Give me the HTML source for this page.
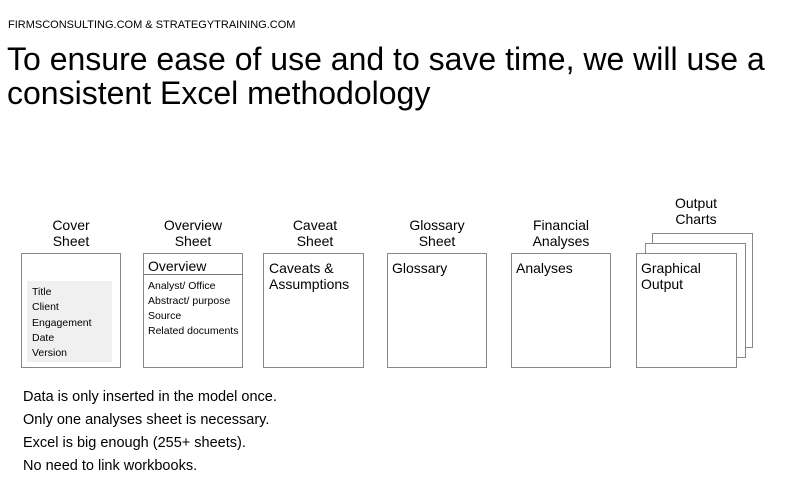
<!DOCTYPE html>
<html><head><style>
body{margin:0;width:799px;height:499px;background:#fff;position:relative;font-family:"Liberation Sans",Arial,sans-serif;color:#000;overflow:hidden}
.a{position:absolute}
.box{position:absolute;border:1px solid #888;background:#fff;box-sizing:border-box}
.lbl{position:absolute;text-align:center;font-size:14px;line-height:16px;width:120px}
.t{font-size:14px;line-height:16px}
.s{font-size:10.5px;line-height:15px}
</style></head><body>
<div class="a" style="left:8px;top:19px;font-size:11px">FIRMSCONSULTING.COM &amp; STRATEGYTRAINING.COM</div>
<div class="a" style="left:7px;top:42px;font-size:32px;line-height:34px">To ensure ease of use and to save time, we will use a<br>consistent Excel methodology</div>

<div class="lbl" style="left:11px;top:217px">Cover<br>Sheet</div>
<div class="lbl" style="left:133px;top:217px">Overview<br>Sheet</div>
<div class="lbl" style="left:255px;top:217px">Caveat<br>Sheet</div>
<div class="lbl" style="left:377px;top:217px">Glossary<br>Sheet</div>
<div class="lbl" style="left:501px;top:217px">Financial<br>Analyses</div>
<div class="lbl" style="left:636px;top:195px">Output<br>Charts</div>

<div class="box" style="left:21px;top:253px;width:100px;height:115px"></div>
<div class="a" style="left:27px;top:281px;width:85px;height:81px;background:#f0f0f1"></div>
<div class="a s" style="left:32px;top:285px;line-height:15.3px">Title<br>Client<br>Engagement<br>Date<br>Version</div>

<div class="box" style="left:143px;top:253px;width:100px;height:115px"></div>
<div class="a" style="left:143px;top:274px;width:100px;height:1px;background:#777"></div>
<div class="a t" style="left:148px;top:258px">Overview</div>
<div class="a s" style="left:148px;top:279px">Analyst/ Office<br>Abstract/ purpose<br>Source<br>Related documents</div>

<div class="box" style="left:263px;top:253px;width:101px;height:115px"></div>
<div class="a t" style="left:269px;top:260px">Caveats &amp;<br>Assumptions</div>

<div class="box" style="left:387px;top:253px;width:100px;height:115px"></div>
<div class="a t" style="left:392px;top:260px">Glossary</div>

<div class="box" style="left:511px;top:253px;width:100px;height:115px"></div>
<div class="a t" style="left:516px;top:260px">Analyses</div>

<div class="box" style="left:652px;top:233px;width:101px;height:115px"></div>
<div class="box" style="left:645px;top:243px;width:101px;height:115px"></div>
<div class="box" style="left:636px;top:253px;width:101px;height:115px"></div>
<div class="a t" style="left:641px;top:260px">Graphical<br>Output</div>

<div class="a" style="left:23px;top:386px;font-size:14.5px;line-height:23px">Data is only inserted in the model once.<br>Only one analyses sheet is necessary.<br>Excel is big enough (255+ sheets).<br>No need to link workbooks.</div>
</body></html>
